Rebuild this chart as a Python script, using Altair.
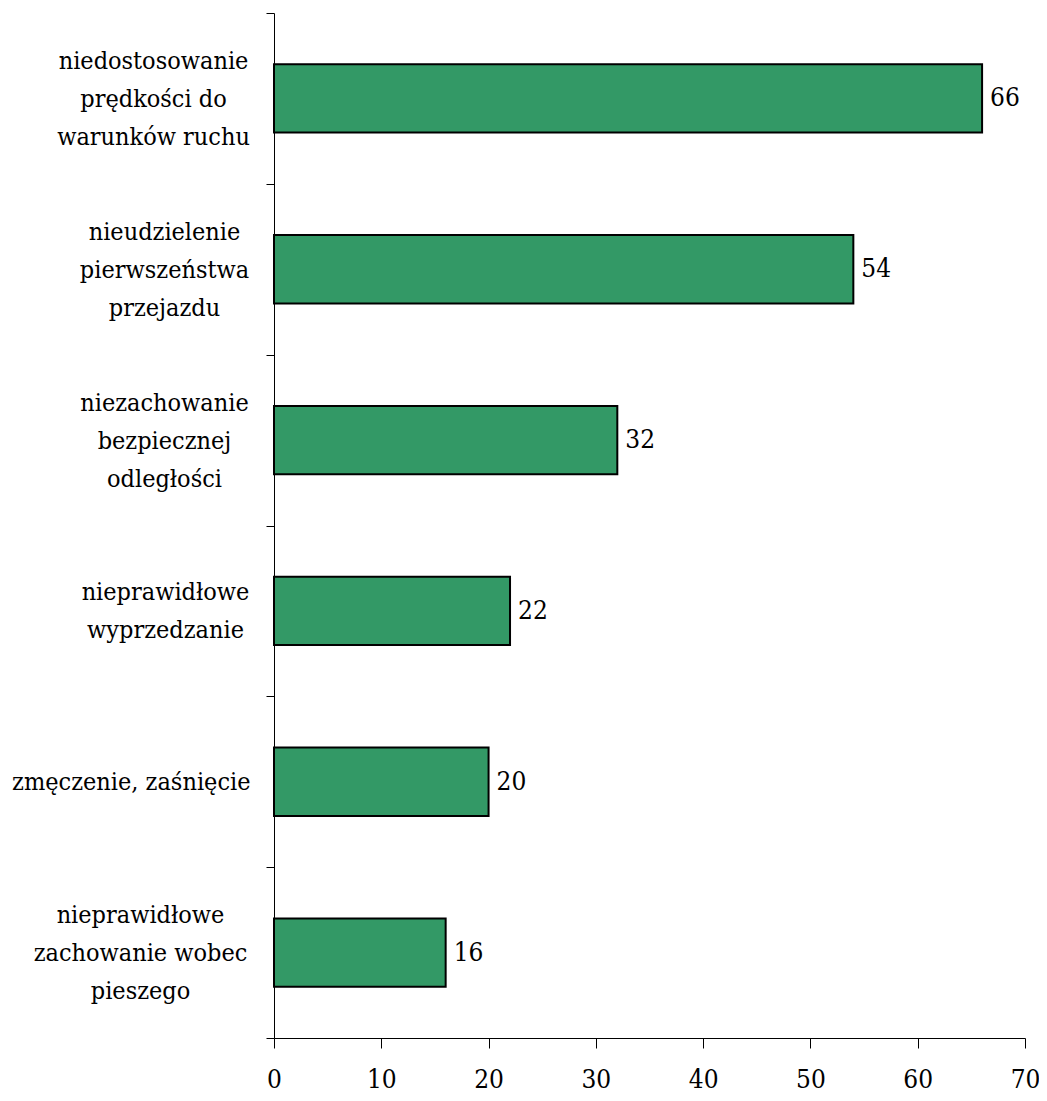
import altair as alt
import pandas as pd

# Data
categories = [
    "niedostosowanie|prędkości do|warunków ruchu",
    "nieudzielenie|pierwszeństwa|przejazdu",
    "niezachowanie|bezpiecznej|odległości",
    "nieprawidłowe|wyprzedzanie",
    "zmęczenie, zaśnięcie",
    "nieprawidłowe|zachowanie wobec|pieszego",
]
values = [66, 54, 32, 22, 20, 16]
x_ticks = [0, 10, 20, 30, 40, 50, 60, 70]

df = pd.DataFrame({"cause": categories, "value": values})

# Styling: label padding per category (lines centred within a right-aligned block)
label_pad = {
    categories[0]: 113,
    categories[1]: 102,
    categories[2]: 102,
    categories[3]: 101,
    categories[4]: 16,
    categories[5]: 126,
}
LINE_H = 38
pad_conditions = [
    {"test": f"datum.value === '{c}'", "value": p} for c, p in label_pad.items()
]
offset_conditions = [
    {"test": f"datum.value === '{c}'", "value": -(len(c.split('|')) - 1) * LINE_H / 2}
    for c in categories
]

FONT = "DejaVu Serif Condensed"

y_enc = alt.Y(
    "cause:N",
    sort=categories,
    title=None,
    scale=alt.Scale(paddingInner=0, paddingOuter=0),
    axis=alt.Axis(
        labelExpr="split(datum.label, '|')",
        labelFont=FONT,
        labelFontSize=25,
        labelColor="black",
        labelLineHeight=LINE_H,
        labelAlign={"condition": {"test": f"datum.value === '{categories[4]}'", "value": "right"}, "value": "center"},
        labelBaseline="middle",
        labelPadding={"condition": pad_conditions, "value": 102},
        labelOffset={"condition": offset_conditions, "value": 0},
        labelLimit=400,
        tickBand="extent",
        tickSize=8,
        tickColor="black",
        domainColor="black",
        grid=False,
    ),
)

x_enc = alt.X(
    "value:Q",
    title=None,
    scale=alt.Scale(domain=[0, 70], nice=False),
    axis=alt.Axis(
        values=x_ticks,
        labelFont=FONT,
        labelFontSize=26,
        labelColor="black",
        labelPadding=18,
        tickSize=10,
        tickColor="black",
        domainColor="black",
        grid=False,
        labelFlush=False,
        labelOverlap=False,
    ),
)

bars = alt.Chart(df).mark_bar(
    color="#339966", stroke="black", strokeWidth=2, height={"band": 0.4}
).encode(x=x_enc, y=y_enc)

text = alt.Chart(df).mark_text(
    align="left", baseline="middle", dx=8, font=FONT, fontSize=26, color="black"
).encode(
    x=alt.X("value:Q"),
    y=alt.Y("cause:N", sort=categories),
    text=alt.Text("value:Q"),
)

chart = (
    alt.layer(bars, text)
    .properties(
        width=751,
        height=1025,
        autosize=alt.AutoSizeParams(type="none"),
        padding={"left": 266, "top": 5, "right": 14, "bottom": 55},
        background="white",
    )
    .configure_view(stroke=None)
)

chart.save("out.html", embed_options={"renderer": "svg", "actions": False})
